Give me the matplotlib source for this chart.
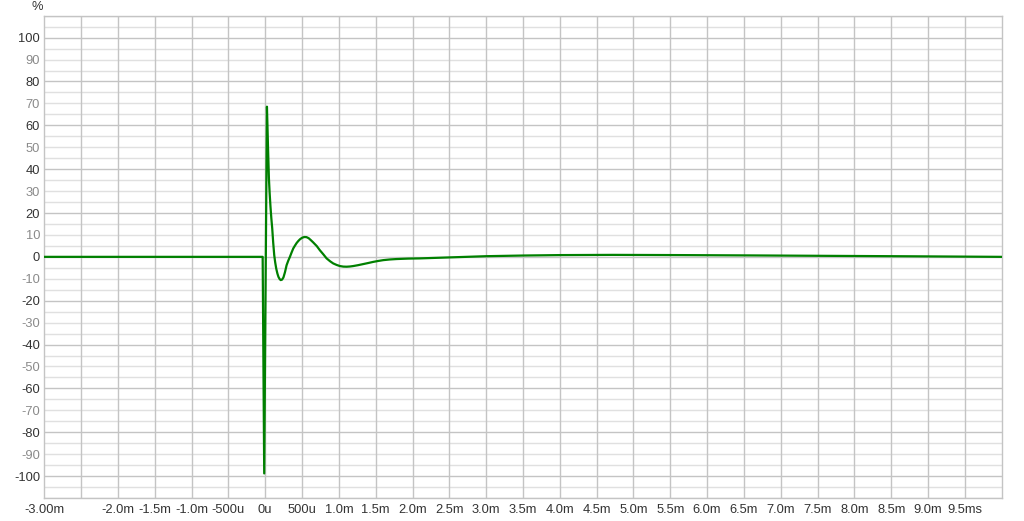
import matplotlib
matplotlib.use("Agg")
import matplotlib.pyplot as plt
from matplotlib.ticker import FixedLocator

# Impulse response (time in ms, amplitude in %)
time_ms = [-3.0, -0.035, -0.014, 0.023, 0.030, 0.037, 0.050, 0.060, 0.071, 0.083,
           0.095, 0.108, 0.122, 0.135, 0.149, 0.165, 0.179, 0.195, 0.210, 0.228,
           0.247, 0.268, 0.290, 0.312, 0.335, 0.358, 0.380, 0.403, 0.426, 0.448,
           0.471, 0.500, 0.530, 0.560, 0.590, 0.620, 0.651, 0.700, 0.742, 0.790,
           0.833, 0.880, 0.923, 0.970, 1.014, 1.060, 1.105, 1.150, 1.194, 1.260,
           1.330, 1.400, 1.466, 1.530, 1.602, 1.690, 1.783, 1.940, 2.10, 2.28,
           2.46, 2.73, 3.00, 3.50, 4.00, 4.72, 5.63, 6.60, 7.66, 8.80, 9.99]
amp_pct = [0.0, 0.0, -98.8, 68.5, 60.0, 50.8, 35.7, 29.0, 23.0, 17.5,
           12.9, 6.5, 0.8, -2.5, -5.3, -7.6, -9.1, -10.1, -10.6, -10.4,
           -9.4, -7.0, -3.8, -1.8, 0.0, 2.0, 3.8, 5.1, 6.3, 7.2,
           8.0, 8.7, 9.05, 9.0, 8.5, 7.6, 6.6, 4.9, 3.0, 1.1,
           -0.7, -2.0, -3.0, -3.7, -4.2, -4.45, -4.5, -4.4, -4.2, -3.8,
           -3.3, -2.8, -2.3, -1.9, -1.5, -1.2, -1.0, -0.8, -0.7, -0.5,
           -0.3, 0.0, 0.3, 0.6, 0.8, 0.9, 0.8, 0.65, 0.45, 0.25, 0.0]

x_ticks = [-3.0, -2.5, -2.0, -1.5, -1.0, -0.5, 0.0, 0.5, 1.0, 1.5, 2.0, 2.5, 3.0,
           3.5, 4.0, 4.5, 5.0, 5.5, 6.0, 6.5, 7.0, 7.5, 8.0, 8.5, 9.0, 9.5]
x_labels = ["-3.00m", "", "-2.0m", "-1.5m", "-1.0m", "-500u", "0u", "500u", "1.0m",
            "1.5m", "2.0m", "2.5m", "3.0m", "3.5m", "4.0m", "4.5m", "5.0m", "5.5m",
            "6.0m", "6.5m", "7.0m", "7.5m", "8.0m", "8.5m", "9.0m", "9.5ms"]
y_ticks = list(range(-100, 101, 10))

plt.rcParams['font.family'] = ['Liberation Sans', 'DejaVu Sans']

W, H = 1024, 521
fig = plt.figure(figsize=(W / 100, H / 100), dpi=100)
left, right, top, bottom = 44.3, 1001.7, 15.7, 498.0
ax = fig.add_axes([left / W, 1 - bottom / H, (right - left) / W, (bottom - top) / H])

ax.set_xlim(-3.0, 10.0)
ax.set_ylim(-110, 110)

# grid
for yv in range(-110, 111, 5):
    if yv % 20 == 0:
        ax.axhline(yv, color='#c4c4c4', lw=1.0, zorder=1)
    else:
        ax.axhline(yv, color='#e0e0e0', lw=1.0, zorder=0.9)
for xv in x_ticks[1:]:
    ax.axvline(xv, color='#c4c4c4', lw=1.0, zorder=1)

ax.plot(time_ms, amp_pct, color='#008000', lw=1.6, zorder=3,
        solid_joinstyle='round', antialiased=True)

for s in ax.spines.values():
    s.set_color('#c4c4c4')
    s.set_linewidth(1.0)

ax.xaxis.set_major_locator(FixedLocator(x_ticks))
ax.set_xticklabels(x_labels)
ax.yaxis.set_major_locator(FixedLocator(y_ticks))
ax.set_yticklabels([str(v) for v in y_ticks])
ax.tick_params(axis='both', length=0, labelsize=9.3, colors='#333333')
ax.tick_params(axis='x', pad=4)
ax.tick_params(axis='y', pad=3)
for lbl, v in zip(ax.get_yticklabels(), y_ticks):
    lbl.set_color('#333333' if v % 20 == 0 else '#8a8a8a')
for lbl in ax.get_xticklabels():
    lbl.set_color('#333333')

fig.text(37 / W, 1 - 7 / H, '%', ha='center', va='center', fontsize=9.3, color='#333333')

fig.savefig('out.png', dpi=100, facecolor='white')
